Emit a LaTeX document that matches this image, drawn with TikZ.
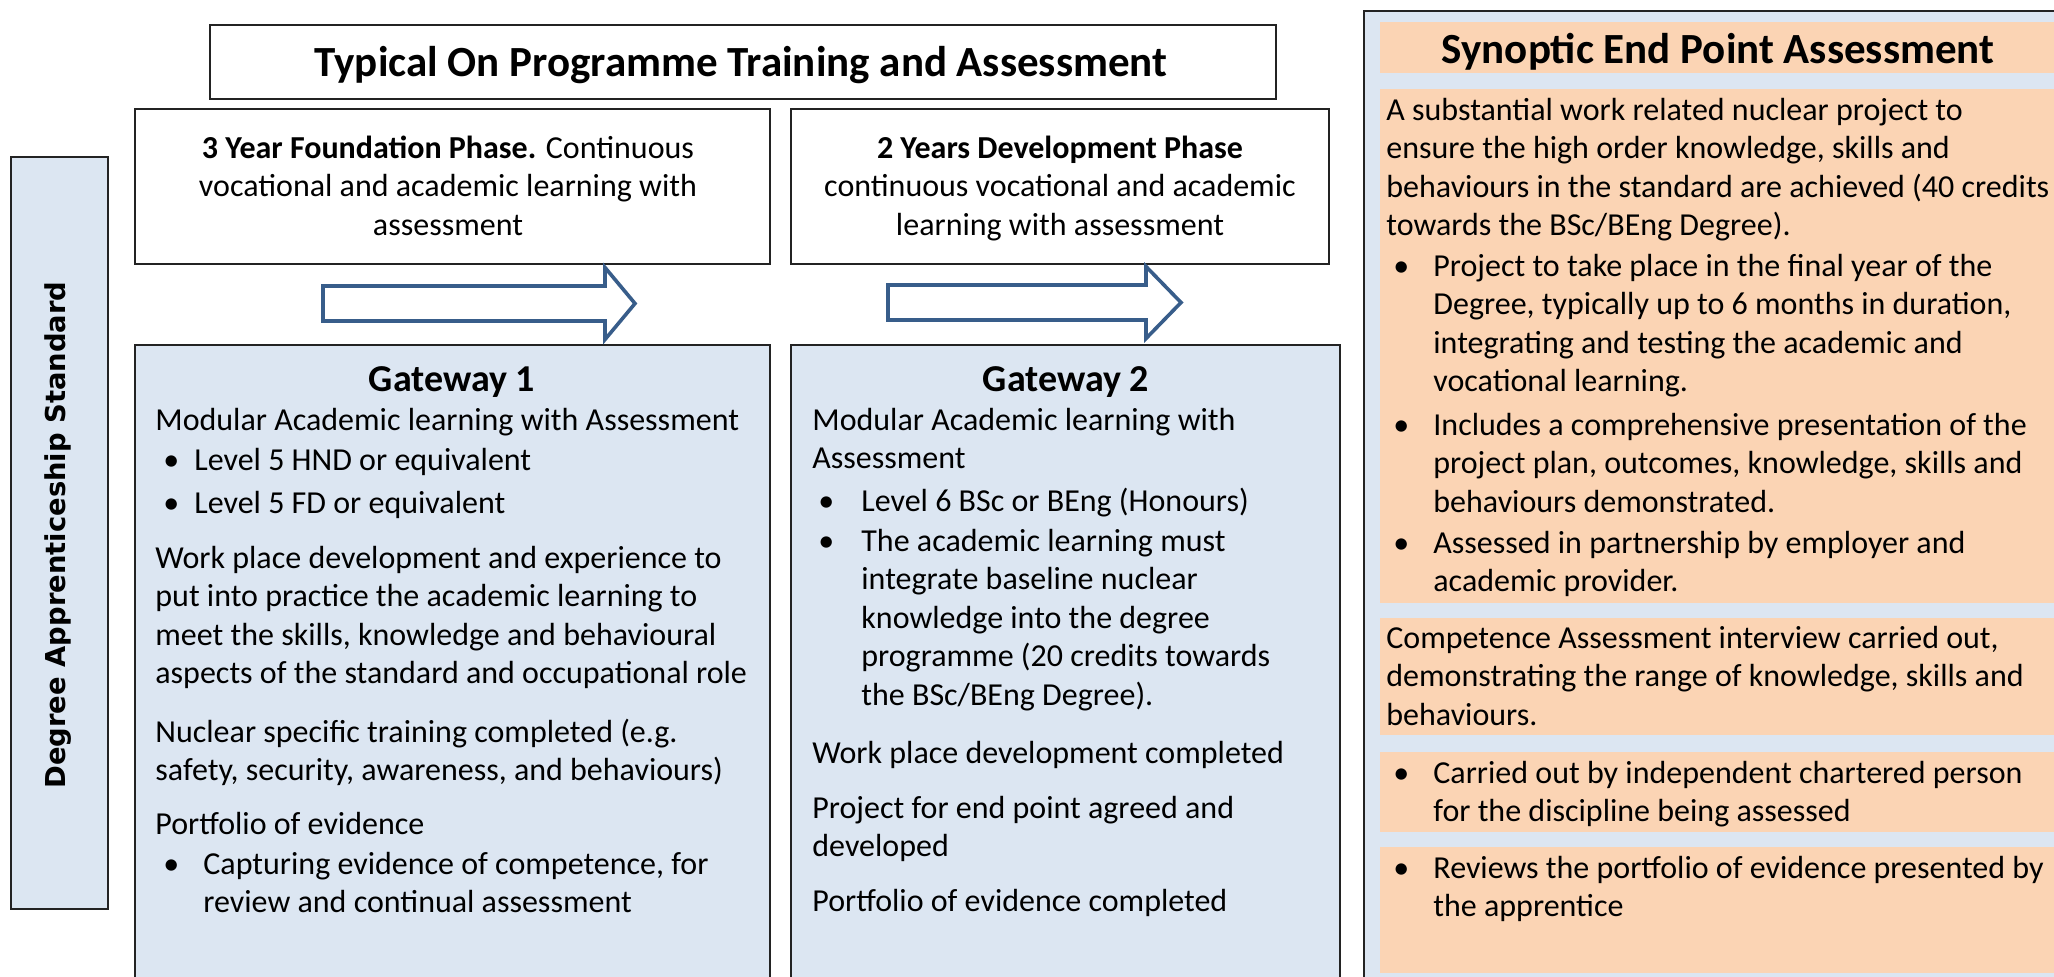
\documentclass[tikz,border=0pt]{standalone}
\usepackage{fontspec}
\setmainfont{Carlito}
\newfontfamily\vertfont{DejaVu Sans}
\usetikzlibrary{fit}

\definecolor{paleblue}{RGB}{220,230,242}
\definecolor{peach}{RGB}{251,212,180}
\definecolor{arrowblue}{RGB}{56,93,138}
\definecolor{edge}{RGB}{35,35,35}

\newcommand{\bodyfont}{\fontsize{16pt}{19.3pt}\selectfont}
\newcommand{\headfont}{\fontsize{19pt}{22pt}\selectfont\bfseries}
\newcommand{\titlefont}{\fontsize{21.5pt}{25pt}\selectfont\bfseries}

\newcommand{\lines}[1]{\begin{tabular}[t]{@{}l@{}}#1\end{tabular}}
\newcommand{\clines}[1]{\begin{tabular}[t]{@{}c@{}}#1\end{tabular}}
\newcommand{\bul}[2]{\makebox[#1][l]{\textbullet}\lines{#2}}
\newcommand{\phasearrow}[4]{
  \draw[arrowline] (#1,#4-17.5) -- (#2,#4-17.5) -- (#2,#4-36) -- (#3,#4)
  -- (#2,#4+36) -- (#2,#4+17.5) -- (#1,#4+17.5) -- cycle;
}

\tikzset{
  plainbox/.style={draw=edge, line width=0.75pt, fill=white, inner sep=0pt},
  bluebox/.style={plainbox, fill=paleblue},
  peachbox/.style={fill=peach, inner sep=0pt},
  arrowline/.style={draw=arrowblue, line width=1.8pt, fill=white, line join=miter},
  txt/.style={inner sep=0pt, anchor=base west, font=\bodyfont},
  ctxt/.style={inner sep=0pt, anchor=base, font=\bodyfont},
  head/.style={inner sep=0pt, anchor=base, font=\headfont},
  bigtitle/.style={inner sep=0pt, anchor=base, font=\titlefont}
}

\begin{document}
\begin{tikzpicture}[x=0.5pt, y=-0.5pt]
  \useasboundingbox (0,0) rectangle (2054,976);
  \clip (0,0) rectangle (2054,976);

  % Boxes
  % =====
  \node[plainbox, fit={(210,25) (1276,99)}] (titlebox) {};
  \node[plainbox, fit={(135,109) (770,264)}] (foundbox) {};
  \node[plainbox, fit={(791,109) (1329,264)}] (devbox) {};
  \node[bluebox, fit={(135,345) (770,1000)}] (gw1box) {};
  \node[bluebox, fit={(791,345) (1340,1000)}] (gw2box) {};
  \node[bluebox, fit={(11,157) (108,909)}] (stdbox) {};
  \node[bluebox, fit={(1364,11) (2090,1000)}] (epabox) {};

  \node[peachbox, fit={(1380,22) (2080,73)}] (epahead) {};
  \foreach \top/\bot [count=\i] in {89/603, 618/735, 752/832, 847/973}
  \node[peachbox, fit={(1380,\top) (2080,\bot)}] (epa\i) {};

  % Arrows
  % ======
  \phasearrow{323}{605}{635}{303.5}
  \phasearrow{888}{1146}{1181}{302.5}

  % Titles
  % ======
  \node[bigtitle] (title) at (741,76) {Typical On Programme Training and Assessment};
  \node[bigtitle] (epatitle) at (1718,63) {Synoptic End Point Assessment};
  \node[inner sep=0pt, rotate=90, font=\vertfont\fontsize{13.7pt}{16pt}\selectfont\bfseries]
    (std) at (58,535) {Degree Apprenticeship Standard};

  % Phases
  % ------
  \node[ctxt] (found) at (448,158) {\clines{\textbf{3 Year Foundation Phase.} Continuous\\
    vocational and academic learning with\\assessment}};
  \node[ctxt] (dev) at (1060,158) {\clines{\textbf{2 Years Development Phase}\\
    continuous vocational and academic\\learning with assessment}};

  % Gateway 1
  % ---------
  \node[head] (gw1) at (452,391) {Gateway 1};
  \node[txt] (gw1a) at (155,430) {Modular Academic learning with Assessment};
  \node[txt] (gw1b) at (163,470) {\bul{15.5pt}{Level 5 HND or equivalent}};
  \node[txt] (gw1c) at (163,513) {\bul{15.5pt}{Level 5 FD or equivalent}};
  \node[txt] (gw1d) at (155,568) {\lines{Work place development and experience to\\
    put into practice the academic learning to\\meet the skills, knowledge and behavioural\\
    aspects of the standard and occupational role}};
  \node[txt] (gw1e) at (155,742) {\lines{Nuclear specific training completed (e.g.\\
    safety, security, awareness, and behaviours)}};
  \node[txt] (gw1f) at (155,834) {Portfolio of evidence};
  \node[txt] (gw1g) at (163,874) {\bul{20pt}{Capturing evidence of competence, for\\
    review and continual assessment}};

  % Gateway 2
  % ---------
  \node[head] (gw2) at (1066,391) {Gateway 2};
  \node[txt] (gw2a) at (812,430) {\lines{Modular Academic learning with\\Assessment}};
  \node[txt] (gw2b) at (818,511) {\bul{21.5pt}{Level 6 BSc or BEng (Honours)}};
  \node[txt] (gw2c) at (818,551) {\bul{21.5pt}{The academic learning must\\
    integrate baseline nuclear\\knowledge into the degree\\
    programme (20 credits towards\\the BSc/BEng Degree).}};
  \node[txt] (gw2d) at (812,763) {Work place development completed};
  \node[txt] (gw2e) at (812,818) {\lines{Project for end point agreed and\\developed}};
  \node[txt] (gw2f) at (812,911) {Portfolio of evidence completed};

  % End point assessment
  % --------------------
  \node[txt] (epaa) at (1386,120) {\lines{A substantial work related nuclear project to\\
    ensure the high order knowledge, skills and\\
    behaviours in the standard are achieved (40 credits\\
    towards the BSc/BEng Degree).}};
  \node[txt] (epab) at (1393,276) {\bul{20pt}{Project to take place in the final year of the\\
    Degree, typically up to 6 months in duration,\\
    integrating and testing the academic and\\vocational learning.}};
  \node[txt] (epac) at (1393,435) {\bul{20pt}{Includes a comprehensive presentation of the\\
    project plan, outcomes, knowledge, skills and\\behaviours demonstrated.}};
  \node[txt] (epad) at (1393,553) {\bul{20pt}{Assessed in partnership by employer and\\
    academic provider.}};
  \node[txt] (epae) at (1386,648) {\lines{Competence Assessment interview carried out,\\
    demonstrating the range of knowledge, skills and\\behaviours.}};
  \node[txt] (epaf) at (1393,783) {\bul{20pt}{Carried out by independent chartered person\\
    for the discipline being assessed}};
  \node[txt] (epag) at (1393,878) {\bul{20pt}{Reviews the portfolio of evidence presented by\\
    the apprentice}};

\end{tikzpicture}
\end{document}
